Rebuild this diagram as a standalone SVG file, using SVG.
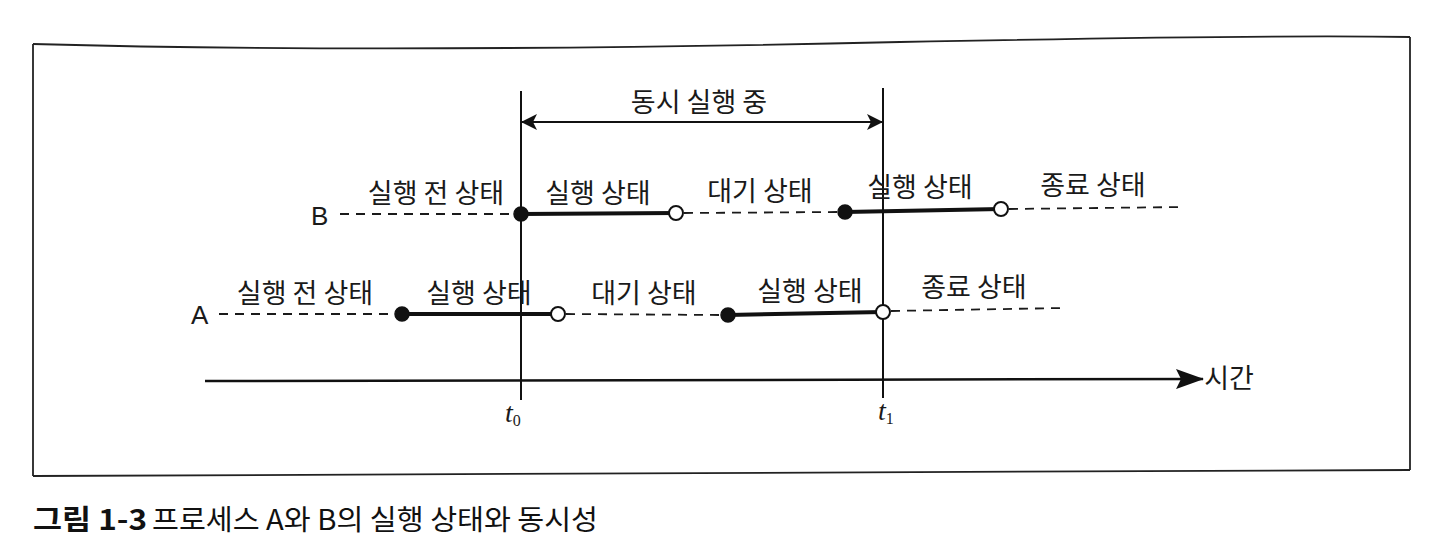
<svg xmlns="http://www.w3.org/2000/svg" width="1440" height="557" viewBox="0 0 1440 557">
<style>
.lbl{font-family:"Noto Sans CJK KR","Noto Sans",sans-serif;font-size:27px;fill:#1a1a1a;text-anchor:middle}
.row{font-family:"Liberation Sans","Noto Sans CJK KR",sans-serif;font-size:26px;fill:#1a1a1a}
.dash{stroke:#1a1a1a;stroke-width:1.8;stroke-dasharray:9 7;fill:none}
.run{stroke:#111;stroke-width:4;fill:none}
.vline{stroke:#111;stroke-width:2;fill:none}
.on{fill:#111;stroke:#111;stroke-width:1.5}
.off{fill:#fff;stroke:#111;stroke-width:2}
.frame{stroke:#222;stroke-width:1.8;fill:none}
.tl{font-family:"Liberation Serif",serif;font-style:italic;font-size:28px;fill:#1a1a1a}
.sub{font-style:normal;font-size:16px}
.cap{font-family:"Noto Sans CJK KR","Noto Sans",sans-serif;font-size:28px;fill:#111}
</style>
<defs>
<marker id="ah" viewBox="0 0 16 16" refX="15" refY="8" markerWidth="16" markerHeight="16" markerUnits="userSpaceOnUse" orient="auto-start-reverse">
<path d="M0,0 L16,8 L0,16 L4,8 z" fill="#111"/>
</marker>
<marker id="ahBig" viewBox="0 0 28 20" refX="27" refY="10" markerWidth="28" markerHeight="20" markerUnits="userSpaceOnUse" orient="auto">
<path d="M0,0 L28,10 L0,20 L5,10 z" fill="#111"/>
</marker>
</defs>
<rect width="1440" height="557" fill="#fff"/>

<g id="frame">
<path class="frame" d="M33,44 C 250,50 550,50 900,42 C 1150,37 1300,35 1410,37"/>
<path class="frame" d="M33,44 L33,476"/>
<path class="frame" d="M1410,37 L1410,470"/>
<path class="frame" d="M33,476 C 400,478 800,473 1410,470" stroke-width="2.2"/>
</g>

<g id="connectors">
<line class="vline" x1="521" y1="91" x2="521" y2="400"/>
<line class="vline" x1="883" y1="88" x2="883" y2="398"/>
<line x1="522" y1="122" x2="882" y2="122" stroke="#111" stroke-width="2" marker-start="url(#ah)" marker-end="url(#ah)"/>
<line x1="205" y1="381" x2="1203" y2="379" stroke="#111" stroke-width="2.5" marker-end="url(#ahBig)"/>
</g>

<g id="concurrent-label">
<text class="lbl" x="699" y="112">동시 실행 중</text>
</g>

<g id="processB">
<text class="row" x="311" y="225">B</text>
<line class="dash" x1="340" y1="214" x2="514" y2="214"/>
<line class="run" x1="521" y1="214" x2="676" y2="213"/>
<line class="dash" x1="684" y1="213" x2="838" y2="212"/>
<line class="run" x1="845" y1="212" x2="1001" y2="209"/>
<line class="dash" x1="1009" y1="209" x2="1183" y2="207"/>
<circle class="on" cx="521" cy="214" r="7"/>
<circle class="off" cx="676" cy="213" r="7"/>
<circle class="on" cx="845" cy="212" r="7"/>
<circle class="off" cx="1001" cy="209" r="7"/>
<text class="lbl" x="436" y="203">실행 전 상태</text>
<text class="lbl" x="598" y="203">실행 상태</text>
<text class="lbl" x="760" y="201">대기 상태</text>
<text class="lbl" x="920" y="197">실행 상태</text>
<text class="lbl" x="1093" y="195">종료 상태</text>
</g>

<g id="processA">
<text class="row" x="191" y="324">A</text>
<line class="dash" x1="219" y1="314" x2="395" y2="314"/>
<line class="run" x1="402" y1="314" x2="558" y2="314"/>
<line class="dash" x1="566" y1="314" x2="721" y2="315"/>
<line class="run" x1="728" y1="315" x2="883" y2="312"/>
<line class="dash" x1="891" y1="311" x2="1063" y2="308"/>
<circle class="on" cx="402" cy="314" r="7"/>
<circle class="off" cx="558" cy="314" r="7"/>
<circle class="on" cx="728" cy="315" r="7"/>
<circle class="off" cx="883" cy="312" r="7"/>
<text class="lbl" x="305" y="303">실행 전 상태</text>
<text class="lbl" x="479" y="303">실행 상태</text>
<text class="lbl" x="644" y="303">대기 상태</text>
<text class="lbl" x="810" y="301">실행 상태</text>
<text class="lbl" x="974" y="297">종료 상태</text>
</g>

<g id="time-axis">
<text class="lbl" x="1229" y="388">시간</text>
<text class="tl" x="505" y="422">t<tspan class="sub" dy="4">0</tspan></text>
<text class="tl" x="878" y="420">t<tspan class="sub" dy="4">1</tspan></text>
</g>

<g id="caption">
<text class="cap" x="33" y="530" font-weight="bold" textLength="114" lengthAdjust="spacingAndGlyphs">그림 1-3</text>
<text class="cap" x="152" y="530" textLength="446" lengthAdjust="spacingAndGlyphs">프로세스 A와 B의 실행 상태와 동시성</text>
</g>
</svg>
